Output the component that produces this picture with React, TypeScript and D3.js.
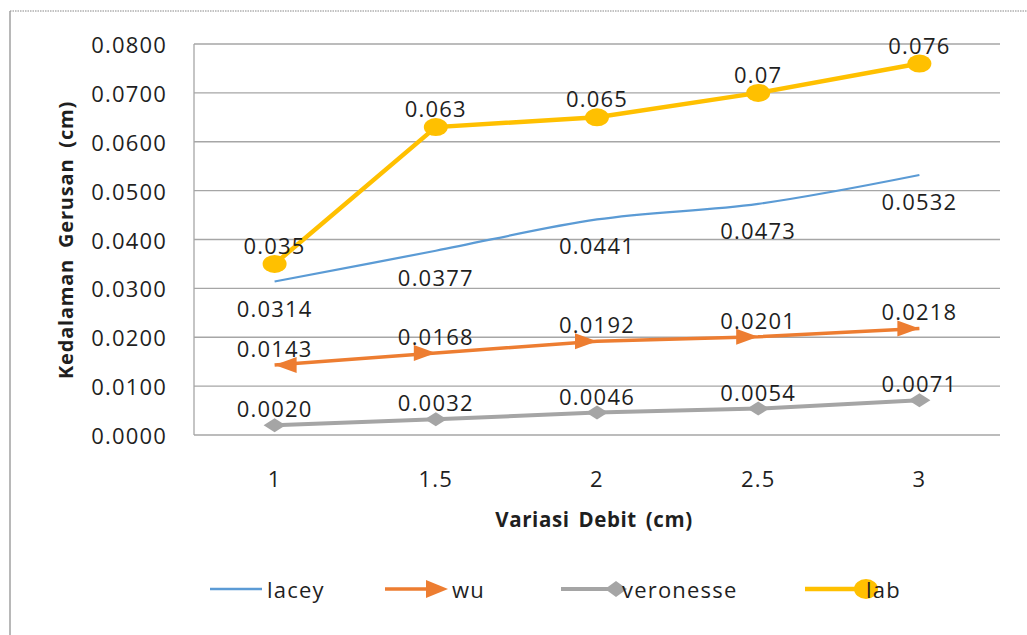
import React from "react";
import * as d3 from "d3";

const categories = ["1", "1.5", "2", "2.5", "3"];
const lacey = [0.0314, 0.0377, 0.0441, 0.0473, 0.0532];
const wu = [0.0143, 0.0168, 0.0192, 0.0201, 0.0218];
const veronesse = [0.002, 0.0032, 0.0046, 0.0054, 0.0071];
const lab = [0.035, 0.063, 0.065, 0.07, 0.076];
const labLabels = ["0.035", "0.063", "0.065", "0.07", "0.076"];
const yTicks = [0, 0.01, 0.02, 0.03, 0.04, 0.05, 0.06, 0.07, 0.08];

const W = 1027;
const H = 635;
const left = 194;
const right = 1000;
const top = 44;
const bottom = 435;
const FONT = "'Open Sans', 'Liberation Sans', sans-serif";
const TXT = "#1f1f1f";

export default function App() {
  const x = d3.scalePoint<string>().domain(categories).range([left, right]).padding(0.5);
  const y = d3.scaleLinear().domain([0, 0.08]).range([bottom, top]);
  const lineStraight = d3
    .line<number>()
    .x((_, i) => x(categories[i]) as number)
    .y((d) => y(d));
  const lineSmooth = d3
    .line<number>()
    .x((_, i) => x(categories[i]) as number)
    .y((d) => y(d))
    .curve(d3.curveCatmullRom.alpha(0.5));

  const labelStyle = { fontFamily: FONT, fontSize: 22, fill: TXT, letterSpacing: 1.2 } as const;

  return (
    <svg width={W} height={H} style={{ position: "absolute", left: 0, top: 0, background: "#fff" }}>
      {/* outer frame */}
      <line x1={10} y1={11} x2={W} y2={11} stroke="#b0b0b0" strokeWidth={1.5} strokeDasharray="1.5 1" />
      <line x1={10} y1={11} x2={10} y2={H} stroke="#a0a0a0" strokeWidth={1.5} />

      {/* gridlines */}
      {yTicks.map((t) => (
        <line key={t} x1={left} x2={right} y1={y(t)} y2={y(t)} stroke="#a6a6a6" strokeWidth={1.3} />
      ))}
      <line x1={left} x2={left} y1={top} y2={bottom} stroke="#a6a6a6" strokeWidth={1.3} />

      {/* y tick labels */}
      {yTicks.map((t) => (
        <text key={t} x={167} y={y(t)} textAnchor="end" dominantBaseline="central" {...labelStyle}>
          {t.toFixed(4)}
        </text>
      ))}
      {/* x tick labels */}
      {categories.map((c) => (
        <text key={c} x={x(c)} y={478} textAnchor="middle" dominantBaseline="central" {...labelStyle}>
          {c}
        </text>
      ))}

      {/* axis titles */}
      <text
        transform={`translate(65,240) rotate(-90)`}
        textAnchor="middle"
        dominantBaseline="central"
        style={{ fontFamily: FONT, fontSize: 20, fontWeight: 700, fill: TXT, letterSpacing: 0.8, wordSpacing: 5 }}
      >
        Kedalaman Gerusan (cm)
      </text>
      <text
        x={594}
        y={519}
        textAnchor="middle"
        dominantBaseline="central"
        style={{ fontFamily: FONT, fontSize: 20.5, fontWeight: 700, fill: TXT, letterSpacing: 0.6, wordSpacing: 3 }}
      >
        Variasi Debit (cm)
      </text>

      {/* lacey */}
      <path d={lineSmooth(lacey) || ""} fill="none" stroke="#5B9BD5" strokeWidth={2.2} />
      {/* wu */}
      <path d={lineStraight(wu) || ""} fill="none" stroke="#ED7D31" strokeWidth={3.5} />
      {wu.map((v, i) => {
        const px = x(categories[i]) as number;
        const py = y(v);
        const dir = i === 0 ? -1 : 1;
        return (
          <path
            key={i}
            d={`M${px},${py} L${px - dir * 22},${py - 8} L${px - dir * 22},${py + 8} Z`}
            fill="#ED7D31"
          />
        );
      })}
      {/* veronesse */}
      <path d={lineStraight(veronesse) || ""} fill="none" stroke="#A5A5A5" strokeWidth={4} />
      {veronesse.map((v, i) => {
        const px = x(categories[i]) as number;
        const py = y(v);
        return <path key={i} d={`M${px - 11},${py} L${px},${py - 7} L${px + 11},${py} L${px},${py + 7} Z`} fill="#A5A5A5" />;
      })}
      {/* lab */}
      <path d={lineStraight(lab) || ""} fill="none" stroke="#FFC000" strokeWidth={4.5} />
      {lab.map((v, i) => (
        <ellipse key={i} cx={x(categories[i]) as number} cy={y(v)} rx={12} ry={9} fill="#FFC000" />
      ))}

      {/* data labels */}
      {lacey.map((v, i) => (
        <text key={"l" + i} x={x(categories[i]) as number} y={y(v) + 26} textAnchor="middle" dominantBaseline="central" {...labelStyle}>
          {v.toFixed(4)}
        </text>
      ))}
      {wu.map((v, i) => (
        <text key={"w" + i} x={x(categories[i]) as number} y={y(v) - 17} textAnchor="middle" dominantBaseline="central" {...labelStyle}>
          {v.toFixed(4)}
        </text>
      ))}
      {veronesse.map((v, i) => (
        <text key={"v" + i} x={x(categories[i]) as number} y={y(v) - 17} textAnchor="middle" dominantBaseline="central" {...labelStyle}>
          {v.toFixed(4)}
        </text>
      ))}
      {lab.map((v, i) => (
        <text key={"b" + i} x={x(categories[i]) as number} y={y(v) - 19} textAnchor="middle" dominantBaseline="central" {...labelStyle}>
          {labLabels[i]}
        </text>
      ))}

      {/* legend */}
      <g>
        <line x1={210} x2={262} y1={589} y2={589} stroke="#5B9BD5" strokeWidth={2.5} />
        <text x={267} y={589} dominantBaseline="central" {...labelStyle}>lacey</text>

        <line x1={385} x2={430} y1={589} y2={589} stroke="#ED7D31" strokeWidth={3.5} />
        <path d="M448,589 L426,580 L426,598 Z" fill="#ED7D31" />
        <text x={452} y={589} dominantBaseline="central" {...labelStyle}>wu</text>

        <line x1={561} x2={615} y1={589} y2={589} stroke="#A5A5A5" strokeWidth={4} />
        <path d="M605,589 L616,581 L627,589 L616,597 Z" fill="#A5A5A5" />
        <text x={622} y={589} dominantBaseline="central" {...labelStyle}>veronesse</text>

        <line x1={805} x2={865} y1={589} y2={589} stroke="#FFC000" strokeWidth={4.5} />
        <ellipse cx={866} cy={589} rx={12} ry={10} fill="#FFC000" />
        <text x={866} y={589} dominantBaseline="central" {...labelStyle}>lab</text>
      </g>
    </svg>
  );
}
